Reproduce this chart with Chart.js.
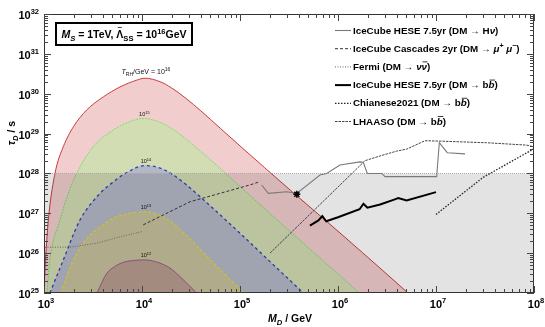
<!DOCTYPE html>
<html><head><meta charset="utf-8">
<script src="https://cdn.jsdelivr.net/npm/chart.js@4.4.1/dist/chart.umd.min.js"></script>
<style>html,body{margin:0;padding:0;background:#fff}#wrap{width:545px;height:327px}</style>
</head><body><div id="wrap"><canvas id="c" width="545" height="327"></canvas></div>
<script>
// ---------- DATA ----------
// Relic-abundance curves, T_RH/GeV = 10^16 ... 10^12  (M_D in GeV, tau_D in s)
const massT16 = [1000,1035,1107,1294,1574,1995,2723,4027,5970,8830,10720,15280,19950,28180,39810,63100,1.0e5,3.16e5,1.0e6,3.16e6,5.18e6];
const tauT16  = [1e25,6.31e25,6.76e26,1e28,4.68e28,1.48e29,3.89e29,8.32e29,1.48e30,2.19e30,2.45e30,2.0e30,1.41e30,7.59e29,3.72e29,1.35e29,4.90e28,4.07e27,3.55e26,2.95e25,1e25];
const massT15 = [1072,1148,1455,1770,2153,3184,5093,7551,10330,15280,19950,28180,39810,63100,1.259e5,3.98e5,1.66e6];
const tauT15  = [1e25,6.76e25,6.76e26,3.16e27,1e28,4.68e28,1.23e29,2.0e29,2.40e29,1.91e29,1.35e29,7.24e28,3.55e28,1.32e28,2.82e27,2.24e26,1e25];
const massT14 = [1148,1574,2328,3724,5000,6761,10720,15850,20890,28180,39810,1.0e5,2.0e5,4.43e5];
const tauT14  = [1e25,6.76e25,6.76e26,3.16e27,5.89e27,1e28,1.58e28,1.32e28,9.12e27,5.25e27,2.51e27,3.16e26,6.31e25,1e25];
const massT13 = [1479,1995,2818,3724,5093,7551,10720,14130,19950,28180,39810,63100,1.0e5,1.096e5];
const tauT13  = [1e25,6.76e25,2.51e26,4.47e26,7.59e26,1e27,1.10e27,9.55e26,6.03e26,2.82e26,1.20e26,3.80e25,1.26e25,1e25];
const massT12 = [3467,4365,5248,6457,8511,10720,15280,19950,24430,36140];
const tauT12  = [1e25,3.09e25,4.57e25,5.89e25,6.61e25,6.76e25,5.62e25,3.98e25,2.57e25,1e25];
const trhExponents = ['16','15','14','13','12'];

// Excluded band (tau < 10^28 s)
const bandMass = [1e3,1e8];
const bandTau  = [1e28,1e28];

// Experimental limits
const massHnu = [1.663e5,1.945e5,3.0e5,3.79e5,6.55e5,7.67e5,1.047e6,1.675e6,1.811e6,1.991e6,2.793e6,3.02e6,1.016e7,1.081e7,1.303e7,1.977e7];
const tauHnu  = [5.13e27,3.16e27,3.47e27,3.16e27,9.12e27,1e28,1.62e28,1.95e28,1.91e28,1e28,1e28,8.32e27,8.32e27,5.89e28,3.31e28,3.09e28];
const massCasc = [10300,30900,1.259e5,1.538e5];
const tauCasc  = [5.13e26,1.95e27,5.13e27,6.03e27];
const massFermi = [1023,1841,3467,5970,9931];
const tauFermi  = [1.41e26,1.41e26,1.78e26,2.57e26,3.47e26];
const massHbb = [5.176e5,6.31e5,6.918e5,7.586e5,1.0e6,1.66e6,1.82e6,1.995e6,2.692e6,3.802e6,4.121e6,5.012e6,1.0e7];
const tauHbb  = [4.90e26,6.61e26,8.51e26,6.31e26,7.94e26,1.26e27,1.74e27,1.38e27,1.66e27,2.24e27,2.40e27,2.09e27,3.39e27];
const massChianese = [1.0e7,3.02e7,1.0e8];
const tauChianese  = [9.33e26,7.94e27,4.17e28];
const massLhaaso = [2.023e5,1.888e6,2.685e6,3.972e6,5.023e6,7.727e6,1.099e7,3.289e7,8.433e7,9.84e7];
const tauLhaaso  = [1e26,2.09e28,2.75e28,3.63e28,4.07e28,6.61e28,6.46e28,5.89e28,5.13e28,4.68e28];
const starMass = [3.8e5];
const starTau  = [3.0e27];

// Axis decades
const xDecades = [3,4,5,6,7,8];
const yDecades = [25,26,27,28,29,30,31,32];

// Legend texts (rich parts)
const legendTexts = [
  [{t:'IceCube HESE 7.5yr (DM \u2192 H'},{t:'\u03bd',it:1},{t:')'}],
  [{t:'IceCube Cascades 2yr (DM \u2192 '},{t:'\u03bc',it:1},{t:'+',sup:1},{t:' \u03bc',it:1},{t:'\u2212',sup:1},{t:')'}],
  [{t:'Fermi (DM \u2192 '},{t:'\u03bd',it:1},{t:'\u03bd',it:1,over:1},{t:')'}],
  [{t:'IceCube HESE 7.5yr (DM \u2192 b'},{t:'b',it:1,over:1},{t:')'}],
  [{t:'Chianese2021 (DM \u2192 b'},{t:'b',it:1,over:1},{t:')'}],
  [{t:'LHAASO (DM \u2192 b'},{t:'b',it:1,over:1},{t:')'}]
];
const boxText = [{t:'M',it:1},{t:'S',it:1,sub:1},{t:' = 1TeV, '},{t:'\u039b',tilde:1},{t:'SS',sub:1},{t:' = 10'},{t:'16',sup:1},{t:'GeV'}];
const xTitle = [{t:'M',it:1},{t:'D',it:1,sub:1},{t:' / GeV'}];
const yTitle = [{t:'\u03c4',it:1},{t:'D',it:1,sub:1},{t:' / s'}];

// ---------- helpers ----------
const pts = (xs, ys) => xs.map((x,i)=>({x, y: ys[i]}));
const FAM = '"Liberation Sans", Arial, Helvetica, sans-serif';

function rich(ctx, parts, x, y, align, size, bold=true, supScale=0.72){
  const fonts = parts.map(p => `${p.it?'italic ':''}${bold?'bold ':''}${(p.sup||p.sub)?Math.round(size*supScale*10)/10:size}px ${FAM}`);
  let w = 0;
  const ws = parts.map((p,i)=>{ctx.font=fonts[i]; const m=ctx.measureText(p.t).width; w+=m; return m;});
  let cx = align==='right' ? x-w : align==='center' ? x-w/2 : x;
  parts.forEach((p,i)=>{
    ctx.font = fonts[i];
    const dy = p.sup ? -size*0.42 : p.sub ? size*0.3 : 0;
    ctx.fillText(p.t, cx, y+dy);
    if (p.over){
      ctx.save(); ctx.lineWidth=0.8; ctx.strokeStyle=ctx.fillStyle;
      ctx.beginPath(); ctx.moveTo(cx+1, y-size*0.82); ctx.lineTo(cx+ws[i]+0.5, y-size*0.82); ctx.stroke(); ctx.restore();
    }
    if (p.tilde){
      ctx.save(); ctx.font = `bold ${size*0.75}px ${FAM}`; ctx.textAlign='center';
      ctx.fillText('~', cx+ws[i]/2, y-size*0.72); ctx.restore();
    }
    cx += ws[i];
  });
  return w;
}

const deco = {
  id:'deco',
  afterDatasetsDraw(chart){
    const ctx = chart.ctx, a = chart.chartArea, xs = chart.scales.x, ys = chart.scales.y;
    ctx.save();
    ctx.fillStyle = '#000';
    ctx.textBaseline = 'alphabetic';
    ctx.textAlign = 'left';
    // curve labels above the peaks
    [0,1,2,3,4].forEach((di,k)=>{
      const data = chart.data.datasets[di].data;
      let best = data[0];
      data.forEach(p=>{ if (p.y>best.y) best=p; });
      const px = xs.getPixelForValue(best.x), py = ys.getPixelForValue(best.y);
      ctx.fillStyle = '#111';
      if (k===0){
        rich(ctx,[{t:'T',it:1},{t:'RH',sub:1},{t:'/GeV = 10'},{t:trhExponents[k],sup:1}], px+1, py-4, 'center', 7, false);
      } else {
        rich(ctx,[{t:'10'},{t:trhExponents[k],sup:1}], px+1, py-2.5, 'center', 5.5, false);
      }
    });
    ctx.fillStyle = '#000';
    // frame
    const L = Math.round(a.left), T = Math.round(a.top), R = Math.round(a.right), B = Math.round(a.bottom);
    ctx.strokeStyle = '#333'; ctx.lineWidth = 1;
    ctx.strokeRect(L+0.5, T+0.5, R-L-1, B-T-1);
    // ticks
    ctx.strokeStyle = '#444';
    ctx.beginPath();
    for (let e=xDecades[0]; e<=xDecades[xDecades.length-1]; e++){
      for (let j=1;j<=9;j++){
        const v = j*Math.pow(10,e); if (v>1e8*1.0001) break;
        const px = Math.round(xs.getPixelForValue(v))+0.5;
        const len = j===1 ? 7 : 4;
        ctx.moveTo(px,B); ctx.lineTo(px,B-len);
        ctx.moveTo(px,T); ctx.lineTo(px,T+len);
      }
    }
    for (let e=yDecades[0]; e<=yDecades[yDecades.length-1]; e++){
      for (let j=1;j<=9;j++){
        const v = j*Math.pow(10,e); if (v>1e32*1.0001) break;
        const py = Math.round(ys.getPixelForValue(v))+0.5;
        const len = j===1 ? 7 : 4;
        ctx.moveTo(L,py); ctx.lineTo(L+len,py);
        ctx.moveTo(R,py); ctx.lineTo(R-len,py);
      }
    }
    ctx.stroke();
    // tick labels
    xDecades.forEach(e=>{
      const px = xs.getPixelForValue(Math.pow(10,e));
      rich(ctx,[{t:'10'},{t:String(e),sup:1}], px+2, B+15, 'center', 11, true, 0.68);
    });
    yDecades.forEach(e=>{
      const py = ys.getPixelForValue(Math.pow(10,e));
      rich(ctx,[{t:'10'},{t:String(e),sup:1}], L-5, py+5, 'right', 11, true, 0.68);
    });
    // axis titles
    rich(ctx, xTitle, 290, 322, 'center', 10.5);
    ctx.save(); ctx.translate(15,133); ctx.rotate(-Math.PI/2);
    rich(ctx, yTitle, 0, 0, 'center', 10.5); ctx.restore();
    // parameter box
    ctx.fillStyle='#fff'; ctx.fillRect(55,22,138,24);
    ctx.strokeStyle='#000'; ctx.lineWidth=2; ctx.strokeRect(56,23,136,22);
    ctx.fillStyle='#000';
    rich(ctx, boxText, 124, 38, 'center', 10.5);
    // legend
    const legendSets = chart.data.datasets.filter(d=>d.inLegend);
    legendSets.forEach((d,i)=>{
      const y = 30 + 18.2*i;
      ctx.save();
      ctx.strokeStyle = d.borderColor; ctx.lineWidth = d.borderWidth; ctx.setLineDash(d.borderDash||[]);
      ctx.beginPath(); ctx.moveTo(335,y+0.5); ctx.lineTo(351,y+0.5); ctx.stroke();
      ctx.restore();
      ctx.fillStyle='#000';
      rich(ctx, legendTexts[i], 353, y+3.5, 'left', 9.8);
    });
    ctx.restore();
  }
};

const curve = (label, xs, ys, fillCol, lineCol, dash, width, order) => ({
  label, data: pts(xs,ys), showLine:true, fill:'start', backgroundColor:fillCol,
  borderColor:lineCol, borderDash:dash, borderWidth:width, pointRadius:0,
  cubicInterpolationMode:'monotone', order
});
const limit = (label, xs, ys, col, dash, width) => ({
  label, data: pts(xs,ys), showLine:true, fill:false, borderColor:col, borderDash:dash,
  borderWidth:width, pointRadius:0, tension:0, order:1, inLegend:true
});

const datasets = [
  curve('T16', massT16, tauT16, '#f1cdcd', '#c83c3c', [], 1, 10),
  curve('T15', massT15, tauT15, '#d3ddb3', '#78e06c', [2,1], 1, 9),
  curve('T14', massT14, tauT14, '#b4b8c6', '#3040c0', [3,3], 1.3, 8),
  curve('T13', massT13, tauT13, '#c5c19d', '#e4dc30', [3,2], 1.2, 7),
  curve('T12', massT12, tauT12, '#b99d90', '#9a5a8a', [], 1, 6),
  {label:'band', data: pts(bandMass,bandTau), showLine:true, fill:'start', backgroundColor:'rgba(0,0,0,0.11)',
   borderColor:'#a8a8a8', borderDash:[1,1], borderWidth:1, pointRadius:0, order:5},
  limit('IceCube HESE 7.5yr (DM \u2192 H\u03bd)', massHnu, tauHnu, '#7a7a7a', [], 1.1),
  limit('IceCube Cascades 2yr (DM \u2192 \u03bc+\u03bc-)', massCasc, tauCasc, '#333', [3,2], 1),
  limit('Fermi (DM \u2192 \u03bd\u03bd)', massFermi, tauFermi, '#666', [1,1.5], 1),
  limit('IceCube HESE 7.5yr (DM \u2192 bb)', massHbb, tauHbb, '#000', [], 2),
  limit('Chianese2021 (DM \u2192 bb)', massChianese, tauChianese, '#222', [1.5,1.5], 1.3),
  limit('LHAASO (DM \u2192 bb)', massLhaaso, tauLhaaso, '#444', [2.5,1], 1),
  {label:'star', data: pts(starMass,starTau), showLine:false, pointStyle:'star', pointRadius:3.5,
   borderColor:'#000', backgroundColor:'#000', borderWidth:1.5, order:0}
];

new Chart(document.getElementById('c'), {
  type:'scatter',
  data:{datasets},
  options:{
    responsive:false, animation:false, devicePixelRatio:1,
    layout:{padding:{left:44,top:14,right:11,bottom:34}},
    scales:{
      x:{type:'logarithmic', min:1e3, max:1e8, display:false},
      y:{type:'logarithmic', min:1e25, max:1e32, display:false}
    },
    plugins:{legend:{display:false}, tooltip:{enabled:false}},
    events:[]
  },
  plugins:[deco]
});
</script></body></html>
